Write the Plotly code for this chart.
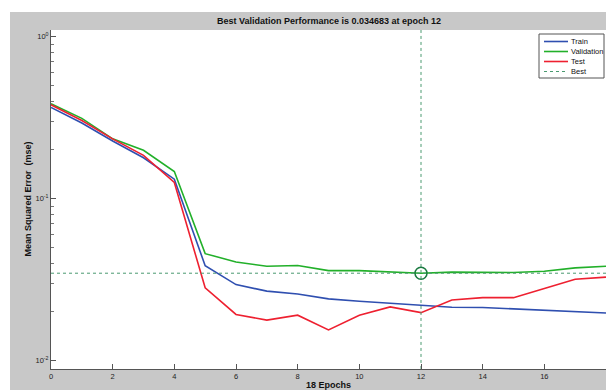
import plotly.graph_objects as go

epochs = list(range(19))
train = [0.366, 0.293, 0.227, 0.179, 0.132, 0.0386, 0.0295, 0.0269, 0.0258, 0.0241,
         0.0233, 0.0227, 0.0221, 0.0214, 0.0213, 0.0209, 0.0206, 0.0202, 0.0197]
validation = [0.385, 0.313, 0.234, 0.199, 0.147, 0.0458, 0.0407, 0.0383, 0.0387, 0.0360,
              0.0360, 0.0352, 0.034683, 0.0352, 0.0352, 0.0350, 0.0357, 0.0374, 0.0383]
test = [0.380, 0.304, 0.234, 0.185, 0.126, 0.0282, 0.0193, 0.0178, 0.0191, 0.0155,
        0.0191, 0.0215, 0.0198, 0.0237, 0.0245, 0.0245, 0.0279, 0.0318, 0.0328]
best_epoch = 12
best_perf = 0.034683

x_ticks = [0, 2, 4, 6, 8, 10, 12, 14, 16, 18]
y_ticks = [0.01, 0.1, 1]
y_ticktext = ["10<sup>-2</sup>", "10<sup>-1</sup>", "10<sup>0</sup>"]
legend_names = ["Train", "Validation", "Test", "Best"]

C_TRAIN = "#2f4fb0"
C_VAL = "#22b02a"
C_TEST = "#ee2030"
C_BEST = "#4a9a70"
FONT = "Liberation Sans, Arial, sans-serif"

W, H = 606, 390
L, R, T, B = 51, 0, 30, 21
PW, PH = W - L - R, H - T - B


def px(x):
    return (x - L) / PW


def py(y):
    return (H - B - y) / PH


fig = go.Figure()
fig.add_trace(go.Scatter(x=epochs, y=train, mode="lines", line=dict(color=C_TRAIN, width=1.6),
                         name="Train", showlegend=False))
fig.add_trace(go.Scatter(x=epochs, y=validation, mode="lines", line=dict(color=C_VAL, width=1.6),
                         name="Validation", showlegend=False))
fig.add_trace(go.Scatter(x=epochs, y=test, mode="lines", line=dict(color=C_TEST, width=1.6),
                         name="Test", showlegend=False))
# best lines
fig.add_trace(go.Scatter(x=[0, 18], y=[best_perf, best_perf], mode="lines",
                         line=dict(color=C_BEST, width=1, dash="dot"), showlegend=False))
fig.add_trace(go.Scatter(x=[best_epoch, best_epoch], y=[0.0089, 1.1], mode="lines",
                         line=dict(color=C_BEST, width=1, dash="dot"), showlegend=False))
fig.add_trace(go.Scatter(x=[best_epoch], y=[best_perf], mode="markers",
                         marker=dict(symbol="circle-open", size=12, color="#1a7a40",
                                     line=dict(width=1.5, color="#1a7a40")),
                         showlegend=False))

shapes = []
# white strips at top and left
shapes.append(dict(type="rect", xref="paper", yref="paper", x0=px(0), x1=px(W + 5),
                   y0=py(12), y1=py(-5), fillcolor="white", line=dict(width=0), layer="above"))
shapes.append(dict(type="rect", xref="paper", yref="paper", x0=px(-5), x1=px(10),
                   y0=py(H + 5), y1=py(-5), fillcolor="white", line=dict(width=0), layer="above"))

# manual legend
shapes.append(dict(type="rect", xref="paper", yref="paper", x0=px(539), x1=px(604),
                   y0=py(78), y1=py(34), fillcolor="white",
                   line=dict(color="#555555", width=1), layer="above"))
annotations = []
leg_y = [41.5, 51.5, 61.5, 71.5]
leg_col = [C_TRAIN, C_VAL, C_TEST, C_BEST]
leg_dash = ["solid", "solid", "solid", "dot"]
leg_w = [1.6, 1.6, 1.6, 1]
for name, yy, c, d, w in zip(legend_names, leg_y, leg_col, leg_dash, leg_w):
    shapes.append(dict(type="line", xref="paper", yref="paper", x0=px(544), x1=px(568),
                       y0=py(yy), y1=py(yy), line=dict(color=c, width=w, dash=d), layer="above"))
    annotations.append(dict(text=name, xref="paper", yref="paper", x=px(569), y=py(yy),
                            xanchor="left", yanchor="middle", showarrow=False,
                            font=dict(family=FONT, size=7.5, color="#111111")))

annotations.append(dict(text="<b>Best Validation Performance is 0.034683 at epoch 12</b>",
                        xref="paper", yref="paper", x=0.5, y=py(21), xanchor="center",
                        yanchor="middle", showarrow=False,
                        font=dict(family=FONT, size=9, color="#111111")))
annotations.append(dict(text="<b>18 Epochs</b>", xref="paper", yref="paper", x=0.5, y=py(385),
                        xanchor="center", yanchor="middle", showarrow=False,
                        font=dict(family=FONT, size=9, color="#111111")))
annotations.append(dict(text="<b>Mean Squared Error  (mse)</b>", xref="paper", yref="paper",
                        x=px(27), y=0.5, xanchor="center", yanchor="middle", textangle=-90,
                        showarrow=False, font=dict(family=FONT, size=9, color="#111111")))

fig.update_layout(
    width=W, height=H,
    margin=dict(l=L, r=R, t=T, b=B, pad=0),
    paper_bgcolor="#c8c8c8",
    plot_bgcolor="white",
    showlegend=False,
    shapes=shapes,
    annotations=annotations,
    xaxis=dict(range=[0, 18], tickvals=x_ticks, ticks="inside", ticklen=5, tickcolor="#555555",
               showline=True, linecolor="#555555", linewidth=1, showgrid=False, zeroline=False,
               tickfont=dict(family=FONT, size=7.5, color="#222222")),
    yaxis=dict(type="log", range=[-2.051, 0.041], tickvals=y_ticks, ticktext=y_ticktext,
               ticks="inside", ticklen=5, tickcolor="#555555",
               showline=True, linecolor="#555555", linewidth=1, showgrid=False, zeroline=False,
               tickfont=dict(family=FONT, size=7.5, color="#222222"),
               minor=dict(ticks="inside", ticklen=3, tickcolor="#777777",
                          tickvals=[0.02, 0.03, 0.04, 0.05, 0.06, 0.07, 0.08, 0.09,
                                    0.2, 0.3, 0.4, 0.5, 0.6, 0.7, 0.8, 0.9], showgrid=False)),
)

fig.write_html("out.html")
